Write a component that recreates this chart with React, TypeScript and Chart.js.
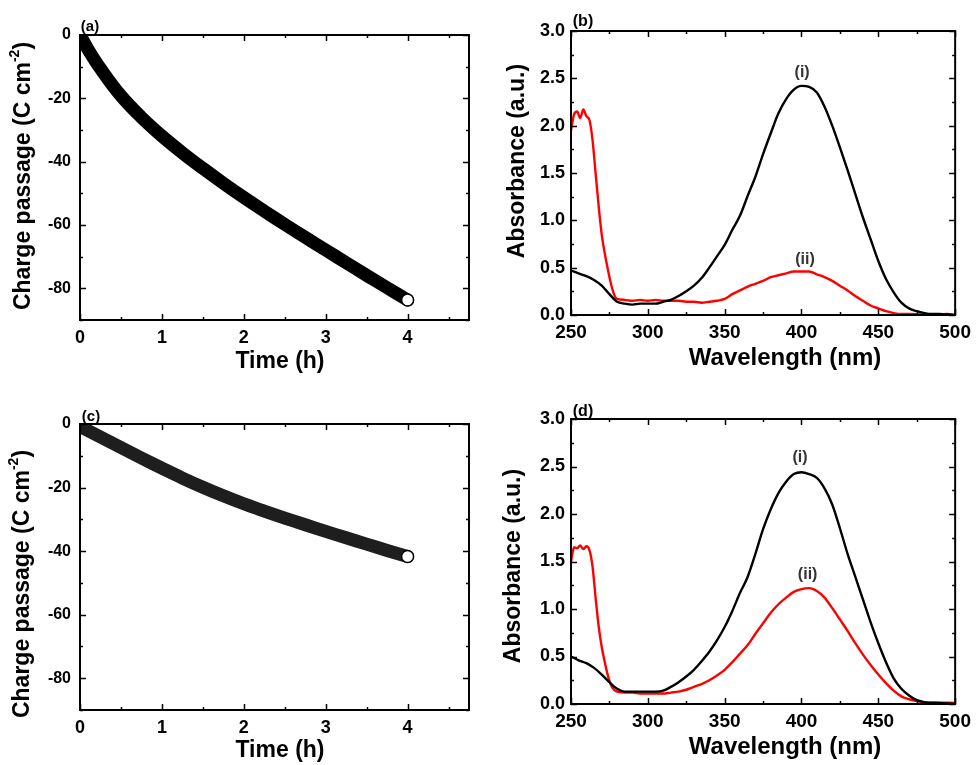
import { useEffect, useRef } from "react";
import { Chart, registerables } from "chart.js";
Chart.register(...registerables);

// ---------- tick labels ----------
const TIME_TICKS = [0, 1, 2, 3, 4];
const CHARGE_TICKS = [0, -20, -40, -60, -80];
const WL_TICKS = [250, 300, 350, 400, 450, 500];
const ABS_TICKS = [0, 0.5, 1.0, 1.5, 2.0, 2.5, 3.0];

// ---------- panel (a): charge passage ----------
const timeA = [0, 0.1, 0.25, 0.5, 0.75, 1, 1.25, 1.5, 1.75, 2, 2.25, 2.5, 2.75, 3, 3.25, 3.5, 3.75, 4];
const chargeA = [0, -4.6, -10.6, -19.2, -26.0, -31.9, -37.2, -42.1, -46.8, -51.3, -55.6, -59.8, -63.9, -67.9, -71.9, -75.9, -79.8, -83.7];

// ---------- panel (c): charge passage ----------
const timeC = [0, 0.25, 0.5, 0.75, 1, 1.25, 1.5, 1.75, 2, 2.25, 2.5, 2.75, 3, 3.25, 3.5, 3.75, 4];
const chargeC = [-0.8, -4.1, -7.4, -10.7, -13.9, -17.0, -19.9, -22.6, -25.1, -27.4, -29.6, -31.7, -33.8, -35.8, -37.8, -39.8, -41.7];

// ---------- panel (b): absorbance ----------
const wlBlackB = [250, 255, 260, 265, 270, 275, 280, 285, 290, 295, 300, 305, 310, 315, 320, 325, 330, 335, 340, 345, 350, 355, 360, 365, 370, 375, 380, 385, 390, 395, 400, 405, 410, 415, 420, 425, 430, 435, 440, 445, 450, 455, 460, 465, 470, 475, 480, 485, 490, 495, 500];
const absBlackB = [0.47, 0.44, 0.41, 0.37, 0.31, 0.22, 0.14, 0.12, 0.11, 0.12, 0.12, 0.12, 0.14, 0.16, 0.2, 0.25, 0.31, 0.39, 0.5, 0.62, 0.74, 0.9, 1.05, 1.26, 1.46, 1.7, 1.92, 2.13, 2.28, 2.38, 2.42, 2.41, 2.35, 2.2, 2.0, 1.77, 1.53, 1.28, 1.03, 0.8, 0.57, 0.38, 0.24, 0.13, 0.07, 0.04, 0.02, 0.01, 0.01, 0.005, 0];
const wlRedB = [250, 252, 254, 256, 258, 260, 262, 264, 266, 268, 270, 272, 274, 276, 278, 280, 285, 290, 295, 300, 305, 310, 315, 320, 325, 330, 335, 340, 345, 350, 355, 360, 365, 370, 375, 380, 385, 390, 395, 400, 405, 410, 415, 420, 425, 430, 435, 440, 445, 450, 455, 460, 465, 470, 480, 490, 495, 500];
const absRedB = [1.95, 2.12, 2.15, 2.08, 2.17, 2.1, 2.06, 1.85, 1.5, 1.15, 0.85, 0.65, 0.48, 0.33, 0.22, 0.17, 0.16, 0.15, 0.16, 0.15, 0.16, 0.15, 0.15, 0.15, 0.14, 0.14, 0.13, 0.14, 0.15, 0.17, 0.22, 0.26, 0.3, 0.33, 0.36, 0.4, 0.42, 0.44, 0.46, 0.46, 0.46, 0.43, 0.4, 0.36, 0.31, 0.26, 0.2, 0.15, 0.1, 0.07, 0.04, 0.02, 0.01, 0.01, 0.005, 0.005, 0.01, 0];

// ---------- panel (d): absorbance ----------
const wlBlackD = [250, 255, 260, 265, 270, 275, 280, 285, 290, 295, 300, 305, 310, 315, 320, 325, 330, 335, 340, 345, 350, 355, 360, 365, 370, 375, 380, 385, 390, 395, 400, 405, 410, 415, 420, 425, 430, 435, 440, 445, 450, 455, 460, 465, 470, 475, 480, 485, 490, 495, 500];
const absBlackD = [0.5, 0.46, 0.43, 0.38, 0.31, 0.23, 0.16, 0.13, 0.13, 0.13, 0.13, 0.13, 0.14, 0.18, 0.23, 0.29, 0.36, 0.45, 0.55, 0.67, 0.81, 0.98, 1.17, 1.34, 1.58, 1.84, 2.05, 2.22, 2.34, 2.42, 2.44, 2.42, 2.38, 2.27, 2.1, 1.85, 1.58, 1.34, 1.1, 0.86, 0.64, 0.44, 0.27, 0.16, 0.09, 0.04, 0.02, 0.01, 0.01, 0.005, 0];
const wlRedD = [250, 252, 254, 256, 258, 260, 262, 264, 266, 268, 270, 272, 274, 276, 278, 280, 285, 290, 295, 300, 305, 310, 315, 320, 325, 330, 335, 340, 345, 350, 355, 360, 365, 370, 375, 380, 385, 390, 395, 400, 405, 410, 415, 420, 425, 430, 435, 440, 445, 450, 455, 460, 465, 470, 475, 480, 490, 500];
const absRedD = [1.5, 1.65, 1.64, 1.67, 1.63, 1.66, 1.62, 1.45, 1.12, 0.82, 0.6, 0.44, 0.3, 0.2, 0.15, 0.13, 0.12, 0.12, 0.11, 0.11, 0.11, 0.11, 0.12, 0.13, 0.15, 0.18, 0.21, 0.25, 0.3, 0.36, 0.44, 0.53, 0.62, 0.74, 0.85, 0.96, 1.05, 1.12, 1.18, 1.21, 1.22, 1.19, 1.12, 1.01, 0.89, 0.77, 0.64, 0.52, 0.41, 0.31, 0.22, 0.14, 0.08, 0.05, 0.03, 0.02, 0.015, 0.01];

const FONT = '"Liberation Sans", Arial, Helvetica, sans-serif';

type TextItem = {
  text: string;
  x: number;
  y: number;
  size: number;
  rotate?: boolean;
  sup?: string;
  tail?: string;
  color?: string;
  data?: boolean; // x,y in data coordinates
};

const pts = (xs: number[], ys: number[]) => xs.map((x, i) => ({ x, y: ys[i] }));

const framePlugin = {
  id: "frame",
  afterDraw(chart: any, _args: any, opts: any) {
    const { ctx, chartArea, scales } = chart;
    const { left, right, top, bottom } = chartArea;
    const xs = scales.x;
    const ys = scales.y;
    ctx.save();
    ctx.strokeStyle = "#000";
    const drawX = (v: number, len: number) => {
      const px = Math.round(xs.getPixelForValue(v)) + 0.5;
      ctx.beginPath();
      ctx.moveTo(px, bottom);
      ctx.lineTo(px, bottom - len);
      ctx.moveTo(px, top);
      ctx.lineTo(px, top + len);
      ctx.stroke();
    };
    const drawY = (v: number, len: number) => {
      const py = Math.round(ys.getPixelForValue(v)) + 0.5;
      ctx.beginPath();
      ctx.moveTo(left, py);
      ctx.lineTo(left + len, py);
      ctx.moveTo(right, py);
      ctx.lineTo(right - len, py);
      ctx.stroke();
    };
    ctx.lineWidth = 1.5;
    const majX: number[] = opts.xMajor;
    const majY: number[] = opts.yMajor;
    majX.forEach((v) => drawX(v, 6));
    majY.forEach((v) => drawY(v, 6));
    const isMaj = (arr: number[], v: number) => arr.some((m) => Math.abs(m - v) < 1e-6);
    for (let v = xs.min; v <= xs.max + 1e-9; v += opts.xMinor) {
      const r = Math.round(v / opts.xMinor) * opts.xMinor;
      if (!isMaj(majX, r)) drawX(r, 3);
    }
    for (let v = ys.min; v <= ys.max + 1e-9; v += opts.yMinor) {
      const r = Math.round(v / opts.yMinor) * opts.yMinor;
      if (!isMaj(majY, r)) drawY(r, 3);
    }
    ctx.lineWidth = 2;
    ctx.strokeRect(left, top, right - left, bottom - top);
    (opts.texts as TextItem[]).forEach((t) => {
      let x = t.x;
      let y = t.y;
      if (t.data) {
        x = xs.getPixelForValue(t.x);
        y = ys.getPixelForValue(t.y);
      }
      ctx.save();
      ctx.fillStyle = t.color || "#000";
      ctx.translate(x, y);
      if (t.rotate) ctx.rotate(-Math.PI / 2);
      ctx.textBaseline = "middle";
      const mainFont = `bold ${t.size}px ${FONT}`;
      const supFont = `bold ${Math.round(t.size * 0.62)}px ${FONT}`;
      ctx.font = mainFont;
      const w1 = ctx.measureText(t.text).width;
      let w2 = 0;
      let w3 = 0;
      if (t.sup) {
        ctx.font = supFont;
        w2 = ctx.measureText(t.sup).width;
        ctx.font = mainFont;
        w3 = ctx.measureText(t.tail || "").width;
      }
      const total = w1 + w2 + w3;
      ctx.textAlign = "left";
      ctx.font = mainFont;
      ctx.fillText(t.text, -total / 2, 0);
      if (t.sup) {
        ctx.font = supFont;
        ctx.fillText(t.sup, -total / 2 + w1, -t.size * 0.38);
        ctx.font = mainFont;
        ctx.fillText(t.tail || "", -total / 2 + w1 + w2, 0);
      }
      ctx.restore();
    });
    ctx.restore();
  },
};

type PanelCfg = {
  left: number;
  top: number;
  w: number;
  h: number;
  padTop: number;
  padRight: number;
  yWidth: number;
  xHeight: number;
  xTickSize: number;
  yTickSize: number;
  yPad: number;
  xPad: number;
  datasets: any[];
  xMin: number;
  xMax: number;
  yMin: number;
  yMax: number;
  xTicks: number[];
  yTicks: number[];
  xMinor: number;
  yMinor: number;
  yFmt: (v: number) => string;
  texts: TextItem[];
};

function buildConfig(c: PanelCfg): any {
  return {
    type: "line",
    data: { datasets: c.datasets },
    plugins: [framePlugin],
    options: {
      animation: false,
      responsive: false,
      maintainAspectRatio: false,
      events: [],
      layout: { padding: { top: c.padTop, right: c.padRight, left: 0, bottom: 0 } },
      plugins: {
        legend: { display: false },
        tooltip: { enabled: false },
        frame: { xMajor: c.xTicks, yMajor: c.yTicks, xMinor: c.xMinor, yMinor: c.yMinor, texts: c.texts },
      },
      scales: {
        x: {
          type: "linear",
          min: c.xMin,
          max: c.xMax,
          afterBuildTicks: (s: any) => {
            s.ticks = c.xTicks.map((v) => ({ value: v }));
          },
          afterFit: (s: any) => {
            s.height = c.xHeight;
          },
          grid: { display: false, drawTicks: false },
          border: { display: false },
          ticks: {
            font: { family: FONT, size: c.xTickSize, weight: "bold" },
            color: "#000",
            padding: c.xPad,
            maxRotation: 0,
            autoSkip: false,
            callback: (v: any) => String(v),
          },
        },
        y: {
          type: "linear",
          min: c.yMin,
          max: c.yMax,
          afterBuildTicks: (s: any) => {
            s.ticks = c.yTicks.map((v) => ({ value: v }));
          },
          afterFit: (s: any) => {
            s.width = c.yWidth;
          },
          grid: { display: false, drawTicks: false },
          border: { display: false },
          ticks: {
            font: { family: FONT, size: c.yTickSize, weight: "bold" },
            color: "#000",
            padding: c.yPad,
            autoSkip: false,
            callback: (v: any) => c.yFmt(Number(v)),
          },
        },
      },
    },
  };
}

function chargeDatasets(t: number[], q: number[], color: string) {
  const n = t.length - 1;
  return [
    {
      data: pts(t, q),
      borderColor: color,
      borderWidth: 13,
      pointRadius: 0,
      tension: 0.4,
      borderCapStyle: "round",
      borderJoinStyle: "round",
      clip: 0,
      order: 2,
    },
    {
      data: [{ x: t[n], y: q[n] }],
      showLine: false,
      pointRadius: 6,
      pointBackgroundColor: "#fff",
      pointBorderColor: "#000",
      pointBorderWidth: 1.5,
      clip: false,
      order: 1,
    },
  ];
}

function specDatasets(wb: number[], ab: number[], wr: number[], ar: number[]) {
  const base = { pointRadius: 0, borderWidth: 2.4, cubicInterpolationMode: "monotone", clip: 0 };
  return [
    { ...base, data: pts(wb, ab), borderColor: "#000" },
    { ...base, data: pts(wr, ar), borderColor: "#ff0000" },
  ];
}

const chargeCommon = {
  w: 490,
  padRight: 21,
  yWidth: 80,
  xTickSize: 18,
  yTickSize: 16,
  yPad: 9,
  xPad: 7,
  xMin: 0,
  xMax: 4.75,
  yMin: -90,
  yMax: 0,
  xTicks: TIME_TICKS,
  yTicks: CHARGE_TICKS,
  xMinor: 0.5,
  yMinor: 10,
  yFmt: (v: number) => String(v),
};

const specCommon = {
  w: 487,
  padRight: 17,
  yWidth: 81,
  xTickSize: 19,
  yTickSize: 18,
  yPad: 6,
  xPad: 6,
  xMin: 250,
  xMax: 500,
  yMin: 0,
  yMax: 3,
  xTicks: WL_TICKS,
  yTicks: ABS_TICKS,
  xMinor: 25,
  yMinor: 0.25,
  yFmt: (v: number) => v.toFixed(1),
};

const chargeTitle = "Charge passage (C cm";

const panels: PanelCfg[] = [
  {
    ...chargeCommon,
    left: 0,
    top: 0,
    h: 380,
    padTop: 35,
    xHeight: 60,
    datasets: chargeDatasets(timeA, chargeA, "#000"),
    texts: [
      { text: "(a)", x: 90, y: 27, size: 15 },
      { text: "Time (h)", x: 280, y: 362, size: 23 },
      { text: chargeTitle, sup: "-2", tail: ")", x: 24, y: 176, size: 23, rotate: true },
    ],
  },
  {
    ...specCommon,
    left: 490,
    top: 0,
    h: 380,
    padTop: 31,
    xHeight: 65,
    datasets: specDatasets(wlBlackB, absBlackB, wlRedB, absRedB),
    texts: [
      { text: "(b)", x: 93, y: 22, size: 16 },
      { text: "Wavelength (nm)", x: 295, y: 358, size: 24 },
      { text: "Absorbance (a.u.)", x: 28, y: 161, size: 23, rotate: true },
      { text: "(i)", x: 400.4, y: 2.56, size: 16, data: true, color: "#333" },
      { text: "(ii)", x: 402.3, y: 0.58, size: 16, data: true, color: "#333" },
    ],
  },
  {
    ...chargeCommon,
    left: 0,
    top: 380,
    h: 385,
    padTop: 44,
    xHeight: 55,
    datasets: chargeDatasets(timeC, chargeC, "#1e1e1e"),
    texts: [
      { text: "(c)", x: 91, y: 37, size: 15 },
      { text: "Time (h)", x: 280, y: 371, size: 23 },
      { text: chargeTitle, sup: "-2", tail: ")", x: 23, y: 204, size: 23, rotate: true },
    ],
  },
  {
    ...specCommon,
    left: 490,
    top: 380,
    h: 385,
    padTop: 39,
    xHeight: 61,
    datasets: specDatasets(wlBlackD, absBlackD, wlRedD, absRedD),
    texts: [
      { text: "(d)", x: 93, y: 32, size: 16 },
      { text: "Wavelength (nm)", x: 295, y: 367, size: 24 },
      { text: "Absorbance (a.u.)", x: 24, y: 186, size: 23, rotate: true },
      { text: "(i)", x: 399, y: 2.59, size: 16, data: true, color: "#333" },
      { text: "(ii)", x: 404, y: 1.36, size: 16, data: true, color: "#333" },
    ],
  },
];

function Panel({ cfg }: { cfg: PanelCfg }) {
  const ref = useRef<HTMLCanvasElement>(null);
  useEffect(() => {
    if (!ref.current) return;
    const chart = new Chart(ref.current, buildConfig(cfg));
    return () => chart.destroy();
  }, [cfg]);
  return (
    <canvas
      ref={ref}
      width={cfg.w}
      height={cfg.h}
      style={{ position: "absolute", left: cfg.left, top: cfg.top, width: cfg.w, height: cfg.h }}
    />
  );
}

export default function App() {
  return (
    <div style={{ position: "absolute", left: 0, top: 0, width: 977, height: 765, background: "#fff", overflow: "hidden" }}>
      {panels.map((p, i) => (
        <Panel key={i} cfg={p} />
      ))}
    </div>
  );
}
